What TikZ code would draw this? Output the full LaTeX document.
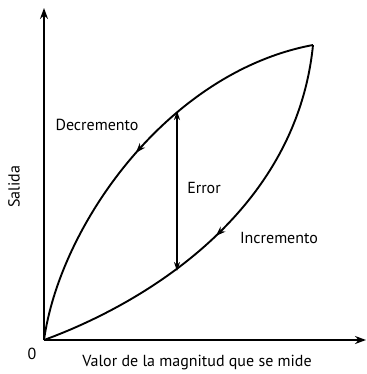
\documentclass[tikz,border=0pt]{standalone}
\usepackage{fontspec}
\setmainfont{PT Sans}
\usetikzlibrary{arrows.meta,decorations.markings}
\begin{document}
\begin{tikzpicture}[x=1pt,y=-1pt,
  axis/.style={line width=2pt,-{Stealth[length=11pt,width=8pt]}},
  curve/.style={line width=1.9pt},
  errarrow/.style={line width=1.7pt,{Stealth[length=9pt,width=6pt]}-{Stealth[length=9pt,width=6pt]}},
  midarrow/.style={postaction={decorate},decoration={markings,mark=at position #1 with {\arrow{Stealth[length=10pt,width=7pt]}}}},
  lbl/.style={font=\fontsize{16}{18}\selectfont,inner sep=0pt}]
\useasboundingbox (0,0) rectangle (366,374);
\coordinate (O) at (44,340);
\coordinate (P) at (313,45);
\coordinate (Ytop) at (44,8);
\coordinate (Xend) at (366,340);
\coordinate (Etop) at (177,111);
\coordinate (Ebot) at (177,271);
\draw[axis] (O) -- (Ytop);
\draw[axis] (O) -- (Xend);
\draw[curve,midarrow=0.5] (P) .. controls (168,72) and (60,225) .. (O);
\draw[curve,midarrow=0.52] (P) .. controls (296,215) and (140,305) .. (O);
\draw[errarrow] (Etop) -- (Ebot);
\node[lbl] (dec) at (97,125) {Decremento};
\node[lbl] (err) at (204,188) {Error};
\node[lbl] (inc) at (279,238) {Incremento};
\node[lbl,rotate=90] (sal) at (14,187) {Salida};
\node[lbl] (zero) at (32,354) {0};
\node[lbl] (xl) at (197,363) {Valor de la magnitud que se mide};
\end{tikzpicture}
\end{document}
